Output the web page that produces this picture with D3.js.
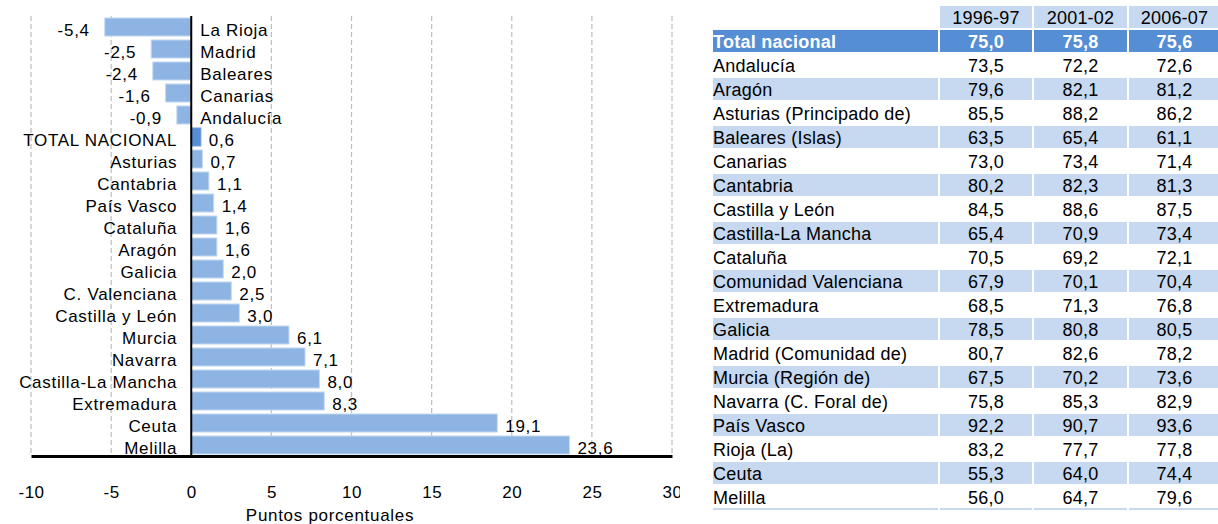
<!DOCTYPE html>
<html>
<head>
<meta charset="utf-8">
<script src="https://cdn.jsdelivr.net/npm/d3@7"></script>
<style>
  body { margin: 0; background: #fff; }
  svg { display: block; font-family: "Liberation Sans", Arial, sans-serif; }
</style>
</head>
<body>
<script>
// chart data (top to bottom)
var categories = ["La Rioja", "Madrid", "Baleares", "Canarias", "Andalucía", "TOTAL NACIONAL",
  "Asturias", "Cantabria", "País Vasco", "Cataluña", "Aragón", "Galicia", "C. Valenciana",
  "Castilla y León", "Murcia", "Navarra", "Castilla-La Mancha", "Extremadura", "Ceuta", "Melilla"];
var changes = [-5.4, -2.5, -2.4, -1.6, -0.9, 0.6, 0.7, 1.1, 1.4, 1.6, 1.6, 2.0, 2.5, 3.0,
  6.1, 7.1, 8.0, 8.3, 19.1, 23.6];
var xTicks = [-10, -5, 0, 5, 10, 15, 20, 25, 30];
var xTitle = "Puntos porcentuales";

// table data
var periods = ["1996-97", "2001-02", "2006-07"];
var regions = ["Total nacional", "Andalucía", "Aragón", "Asturias (Principado de)", "Baleares (Islas)",
  "Canarias", "Cantabria", "Castilla y León", "Castilla-La Mancha", "Cataluña", "Comunidad Valenciana",
  "Extremadura", "Galicia", "Madrid (Comunidad de)", "Murcia (Región de)", "Navarra (C. Foral de)",
  "País Vasco", "Rioja (La)", "Ceuta", "Melilla"];
var rate9697 = [75.0, 73.5, 79.6, 85.5, 63.5, 73.0, 80.2, 84.5, 65.4, 70.5, 67.9, 68.5, 78.5, 80.7, 67.5, 75.8, 92.2, 83.2, 55.3, 56.0];
var rate0102 = [75.8, 72.2, 82.1, 88.2, 65.4, 73.4, 82.3, 88.6, 70.9, 69.2, 70.1, 71.3, 80.8, 82.6, 70.2, 85.3, 90.7, 77.7, 64.0, 64.7];
var rate0607 = [75.6, 72.6, 81.2, 86.2, 61.1, 71.4, 81.3, 87.5, 73.4, 72.1, 70.4, 76.8, 80.5, 78.2, 73.6, 82.9, 93.6, 77.8, 74.4, 79.6];

var es = d3.formatLocale({decimal: ",", thousands: ".", grouping: [3], currency: ["", "€"], minus: "-"});
var fmt = es.format(".1f");

var svg = d3.select("body").append("svg")
  .attr("width", 1218)
  .attr("height", 524);

//---------- bar chart ----------
var chart = svg.append("svg")
  .attr("width", 680)
  .attr("height", 524)
  .style("overflow", "hidden");

var x = d3.scaleLinear().domain([-10, 30]).range([31, 672]);
var y = d3.scaleBand().domain(categories).range([16, 456]).paddingInner(0.18).paddingOuter(0.09);

// dashed grid
chart.append("g")
  .selectAll("line")
  .data(xTicks.filter(function (d) { return d !== 0; }))
  .enter()
  .append("line")
  .attr("x1", function (d) { return x(d); })
  .attr("x2", function (d) { return x(d); })
  .attr("y1", 16)
  .attr("y2", 456)
  .attr("stroke", "#c0c0c0")
  .attr("stroke-width", 1.3)
  .attr("stroke-dasharray", "5,3");

var data = categories.map(function (c, i) { return {name: c, value: changes[i]}; });

chart.append("g")
  .selectAll("rect")
  .data(data)
  .enter()
  .append("rect")
  .attr("x", function (d) { return x(Math.min(0, d.value)); })
  .attr("y", function (d) { return y(d.name); })
  .attr("width", function (d) { return Math.abs(x(d.value) - x(0)); })
  .attr("height", y.bandwidth())
  .attr("fill", function (d) { return d.name === "TOTAL NACIONAL" ? "#558ed5" : "#8db4e2"; })
  .attr("stroke", function (d) { return d.name === "TOTAL NACIONAL" ? "#6f9edb" : "#c6d9f1"; })
  .attr("stroke-width", 1);

// category labels
chart.append("g")
  .selectAll("text")
  .data(data)
  .enter()
  .append("text")
  .attr("x", function (d) { return d.value < 0 ? x(0) + 9 : x(0) - 14; })
  .attr("y", function (d) { return y(d.name) + y.bandwidth() / 2 + 9; })
  .attr("text-anchor", function (d) { return d.value < 0 ? "start" : "end"; })
  .style("font-size", "17px")
  .style("letter-spacing", "0.7px")
  .attr("fill", "#000")
  .text(function (d) { return d.name; });

// value labels
chart.append("g")
  .selectAll("text")
  .data(data)
  .enter()
  .append("text")
  .attr("x", function (d) { return d.value < 0 ? x(d.value) - 15 : x(d.value) + 8; })
  .attr("y", function (d) { return y(d.name) + y.bandwidth() / 2 + 9; })
  .attr("text-anchor", function (d) { return d.value < 0 ? "end" : "start"; })
  .style("font-size", "17px")
  .style("letter-spacing", "0.7px")
  .attr("fill", "#000")
  .text(function (d) { return fmt(d.value); });

// zero line and bottom axis
chart.append("line")
  .attr("x1", x(0)).attr("x2", x(0))
  .attr("y1", 16).attr("y2", 456)
  .attr("stroke", "#000")
  .attr("stroke-width", 2);

var xAxis = d3.axisBottom(x)
  .tickValues(xTicks)
  .tickSize(0)
  .tickPadding(30)
  .tickFormat(function (d) { return d; });

var gx = chart.append("g")
  .attr("transform", "translate(0,456)")
  .call(xAxis);
gx.select(".domain")
  .attr("stroke", "#000")
  .attr("stroke-width", 3);
gx.selectAll("text")
  .style("font-size", "17px")
  .style("letter-spacing", "0.5px")
  .style("font-family", "'Liberation Sans', Arial, sans-serif")
  .attr("fill", "#000");

chart.append("text")
  .attr("x", 330)
  .attr("y", 521)
  .attr("text-anchor", "middle")
  .style("font-size", "17px")
  .style("letter-spacing", "0.7px")
  .text(xTitle);

//---------- table ----------
var table = svg.append("g");
var rowY = d3.scaleBand().domain(d3.range(regions.length + 1)).range([5, 509]).paddingInner(0.083).paddingOuter(0.04);
var cols = [[713, 938], [940, 1032], [1034, 1127], [1129, 1220]];
var values = [rate9697, rate0102, rate0607];

// header
periods.forEach(function (p, j) {
  var c = cols[j + 1];
  table.append("rect")
    .attr("x", c[0]).attr("y", rowY(0))
    .attr("width", c[1] - c[0]).attr("height", rowY.bandwidth())
    .attr("fill", "#c6d9f1");
  table.append("text")
    .attr("x", (c[0] + c[1]) / 2)
    .attr("y", rowY(0) + rowY.bandwidth() / 2 + 7)
    .attr("text-anchor", "middle")
    .style("font-size", "18px")
    .style("letter-spacing", "0.2px")
    .text(p);
});

regions.forEach(function (r, i) {
  var top = rowY(i + 1);
  var isTotal = i === 0;
  var shaded = !isTotal && i % 2 === 0;
  if (isTotal || shaded) {
    cols.forEach(function (c) {
      table.append("rect")
        .attr("x", c[0]).attr("y", top)
        .attr("width", c[1] - c[0]).attr("height", rowY.bandwidth())
        .attr("fill", isTotal ? "#558ed5" : "#c6d9f1");
    });
  }
  table.append("text")
    .attr("x", 713)
    .attr("y", top + rowY.bandwidth() / 2 + 7)
    .style("font-size", "18px")
    .style("letter-spacing", "0.25px")
    .style("font-weight", isTotal ? "bold" : "normal")
    .attr("fill", isTotal ? "#fff" : "#000")
    .text(r);
  values.forEach(function (v, j) {
    var c = cols[j + 1];
    table.append("text")
      .attr("x", (c[0] + c[1]) / 2)
      .attr("y", top + rowY.bandwidth() / 2 + 7)
      .attr("text-anchor", "middle")
      .style("font-size", "18px")
      .style("letter-spacing", "0.2px")
      .style("font-weight", isTotal ? "bold" : "normal")
      .attr("fill", isTotal ? "#fff" : "#000")
      .text(fmt(v[i]));
  });
});

// bottom border under last row
cols.forEach(function (c) {
  table.append("line")
    .attr("x1", c[0]).attr("x2", c[1])
    .attr("y1", rowY(regions.length) + rowY.bandwidth() + 1)
    .attr("y2", rowY(regions.length) + rowY.bandwidth() + 1)
    .attr("stroke", "#c6d9f1")
    .attr("stroke-width", 2);
});
</script>
</body>
</html>
